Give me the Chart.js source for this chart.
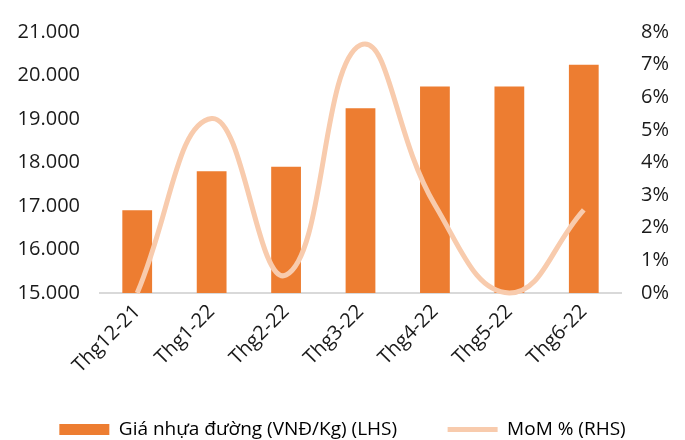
<!DOCTYPE html>
<html>
<head>
<meta charset="utf-8">
<script src="https://cdn.jsdelivr.net/npm/chart.js@4"></script>
<style>
  body { margin: 0; background: #fff; }
  #wrap { width: 685px; height: 440px; }
</style>
</head>
<body>
<div id="wrap"><canvas id="chart"></canvas></div>
<script>
// data
const months = ['Thg12-21', 'Thg1-22', 'Thg2-22', 'Thg3-22', 'Thg4-22', 'Thg5-22', 'Thg6-22'];
const priceVnd = [16900, 17800, 17900, 19250, 19750, 19750, 20250];
const momPct = [0, 5.35, 0.55, 7.6, 2.7, 0, 2.55];
const priceLabel = 'Giá nhựa đường (VNĐ/Kg) (LHS)';
const momLabel = 'MoM % (RHS)';

const fontFamily = '"Open Sans", "Noto Sans", sans-serif';
const textColor = '#1a1a1a';

const ctx = document.getElementById('chart').getContext('2d');
new Chart(ctx, {
  data: {
    labels: months,
    datasets: [
      {
        type: 'line',
        label: momLabel,
        data: momPct,
        yAxisID: 'yR',
        borderColor: '#F8CBAD',
        backgroundColor: '#F8CBAD',
        borderWidth: 5,
        pointRadius: 0,
        tension: 0.45,
        clip: false,
        order: 1
      },
      {
        type: 'bar',
        label: priceLabel,
        data: priceVnd,
        yAxisID: 'yL',
        backgroundColor: '#ED7D31',
        barPercentage: 0.4,
        categoryPercentage: 1,
        order: 2
      }
    ]
  },
  options: {
    responsive: true,
    maintainAspectRatio: false,
    animation: false,
    // negative bottom padding pulls the legend down towards the edge
    layout: { padding: { top: 19, left: 0, right: 0, bottom: -9 } },
    plugins: {
      tooltip: { enabled: false },
      legend: {
        position: 'bottom',
        reverse: true,
        labels: {
          font: { family: fontFamily, size: 19 },
          color: textColor,
          usePointStyle: true,
          pointStyleWidth: 50,
          boxHeight: 11,
          padding: 22,
          // extra en-spaces after the bar entry widen the gap between the two items
          generateLabels: chart => chart.data.datasets.map((ds, i) => ({
            text: ds.type === 'line' ? ds.label : ds.label + '\u2002\u2002\u2002',
            fillStyle: ds.backgroundColor,
            strokeStyle: ds.type === 'line' ? ds.borderColor : ds.backgroundColor,
            lineWidth: ds.type === 'line' ? 5 : 0,
            pointStyle: ds.type === 'line' ? 'line' : 'rect',
            datasetIndex: i,
            hidden: false
          }))
        }
      }
    },
    scales: {
      x: {
        grid: { display: false, drawTicks: false },
        border: { display: true, color: '#d9d9d9', width: 2 },
        ticks: {
          font: { family: fontFamily, size: 20 },
          color: textColor,
          maxRotation: 45,
          minRotation: 45,
          padding: 7
        },
        afterFit: s => { s.height = 105; }
      },
      yL: {
        position: 'left',
        min: 15000,
        max: 21000,
        grid: { display: false, drawTicks: false },
        border: { display: false },
        ticks: {
          stepSize: 1000,
          font: { family: fontFamily, size: 20 },
          color: textColor,
          padding: 20,
          callback: v => v.toLocaleString('de-DE')
        },
        afterFit: s => { s.width = 100; }
      },
      yR: {
        position: 'right',
        min: 0,
        max: 8,
        grid: { display: false, drawTicks: false },
        border: { display: false },
        ticks: {
          stepSize: 1,
          font: { family: fontFamily, size: 20 },
          color: textColor,
          padding: 20,
          callback: v => v + '%'
        },
        afterFit: s => { s.width = 64; }
      }
    }
  }
});
</script>
</body>
</html>
